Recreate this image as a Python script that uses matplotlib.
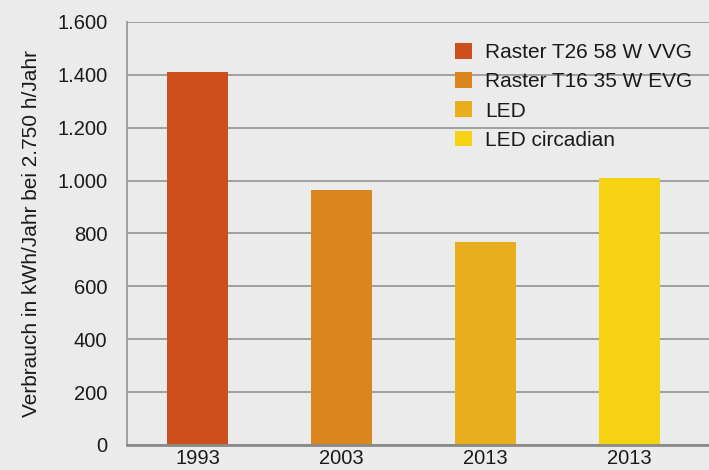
import matplotlib.pyplot as plt
import matplotlib.ticker as mticker

# Daten
jahre = ["1993", "2003", "2013", "2013"]
serien = ["Raster T26 58 W VVG", "Raster T16 35 W EVG", "LED", "LED circadian"]
verbrauch = [1410, 965, 768, 1010]
farben = ["#cd4f1d", "#da851d", "#e8ae1c", "#f5d212"]

y_ticks = [0, 200, 400, 600, 800, 1000, 1200, 1400, 1600]

plt.rcParams['font.family'] = ['Liberation Sans', 'DejaVu Sans']

fig = plt.figure(figsize=(7.09, 4.70), dpi=100)
fig.patch.set_facecolor("#ebebeb")
ax = fig.add_axes([0.179, 0.0532, 0.821, 0.9])
ax.set_facecolor("#ebebeb")

pos = list(range(len(jahre)))
for i in pos:
    ax.bar(pos[i], verbrauch[i], width=0.42, color=farben[i], label=serien[i], zorder=3)

ax.set_xlim(-0.49, 3.55)
ax.set_ylim(0, 1600)
ax.set_yticks(y_ticks)
ax.yaxis.set_major_formatter(mticker.FuncFormatter(lambda v, p: f"{int(v):,}".replace(",", ".")))
ax.set_xticks(pos)
ax.set_xticklabels(jahre)
ax.tick_params(axis="both", length=0, labelsize=14.5, colors="#1a1a1a")
ax.tick_params(axis="y", pad=14)
ax.tick_params(axis="x", pad=3)

ax.grid(axis="y", color="#9a9a9a", linewidth=1.3, zorder=0)
for s in ["top", "right"]:
    ax.spines[s].set_visible(False)
ax.spines["left"].set_color("#9a9a9a")
ax.spines["left"].set_linewidth(1.3)
ax.spines["bottom"].set_color("#8a8a8a")
ax.spines["bottom"].set_linewidth(2)
ax.spines["bottom"].set_zorder(4)

ax.set_ylabel("Verbrauch in kWh/Jahr bei 2.750 h/Jahr", fontsize=15, color="#1a1a1a", labelpad=12)

leg = ax.legend(loc="upper right", bbox_to_anchor=(1.0, 0.99), frameon=False, fontsize=15,
                handlelength=0.8, handleheight=0.8, handletextpad=0.65, labelspacing=0.48,
                borderaxespad=0.4)
for t in leg.get_texts():
    t.set_color("#1a1a1a")

fig.savefig("out.png", dpi=100, facecolor=fig.get_facecolor())
